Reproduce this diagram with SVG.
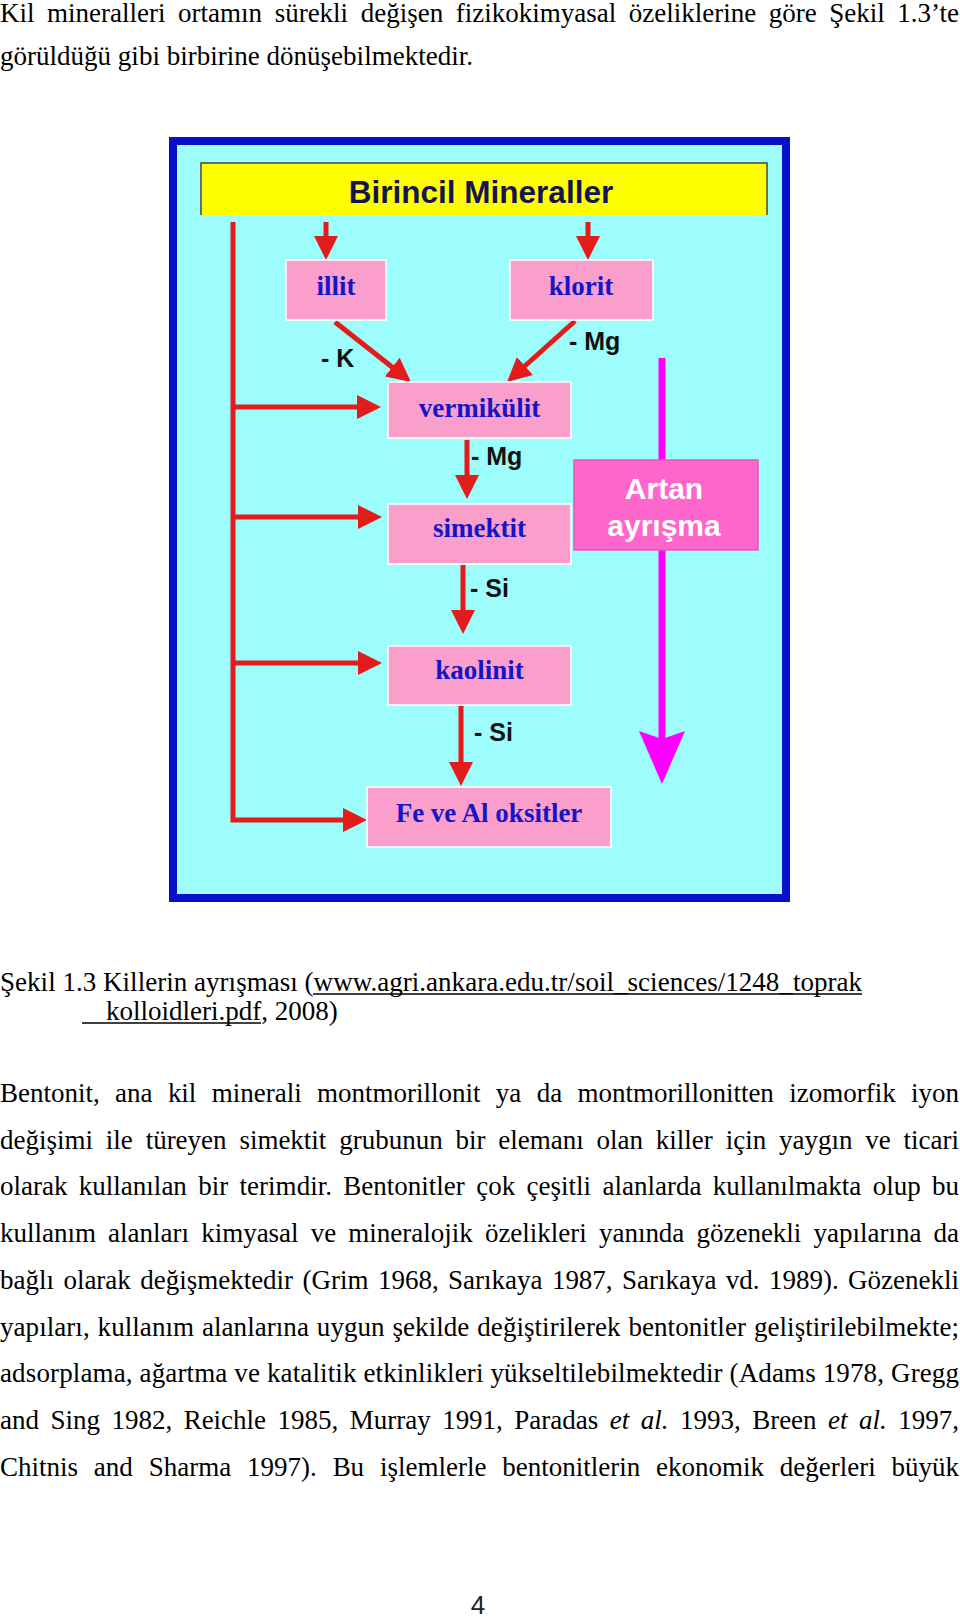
<svg xmlns="http://www.w3.org/2000/svg" width="960" height="1617" viewBox="0 0 960 1617">
<style>
.body{font-family:"Liberation Serif","Times New Roman",serif;font-size:27px;fill:#000}
.box{fill:#fa9fcb;stroke:#ffffff;stroke-width:1.5}
.boxt{font-family:"Liberation Serif","Times New Roman",serif;font-weight:bold;font-size:27px;fill:#1414c8;text-anchor:middle}
.lbl{font-family:"Liberation Sans",Arial,sans-serif;font-weight:bold;font-size:25px;fill:#111}
.red{stroke:#e31b1b;stroke-width:5;fill:none;marker-end:url(#ah)}
.ul{stroke:#000;stroke-width:1.3}
.art{font-family:"Liberation Sans",Arial,sans-serif;font-weight:bold;font-size:30px;fill:#ffffff;text-anchor:middle}
</style>
<defs>
<marker id="ah" viewBox="0 0 24 24" markerWidth="24" markerHeight="24" refX="18" refY="12" orient="auto" markerUnits="userSpaceOnUse">
<path d="M0,0 L24,12 L0,24 z" fill="#e31b1b"/>
</marker>
</defs>
<rect width="960" height="1617" fill="#ffffff"/>

<g id="intro">
<text class="body" x="0" y="22" textLength="959" lengthAdjust="spacing" word-spacing="5.8">Kil mineralleri ortamın sürekli değişen fizikokimyasal özeliklerine göre Şekil 1.3’te</text>
<text class="body" x="0" y="65" textLength="473" lengthAdjust="spacing">görüldüğü gibi birbirine dönüşebilmektedir.</text>
</g>

<g id="frame">
<rect x="173" y="141" width="613" height="757" fill="#9dfcfc" stroke="#0a10c8" stroke-width="8"/>
</g>

<g id="connectors">
<path class="red" d="M326,222 V254"/>
<path class="red" d="M588,222 V254"/>
<path class="red" d="M335,322 L406.3,378.3"/>
<path class="red" d="M575,321 L511.5,378"/>
<path class="red" d="M467,440 V493"/>
<path class="red" d="M463,565 V628"/>
<path class="red" d="M461,706 V780"/>
<path class="red" d="M233,222 V820 H361"/>
<path class="red" d="M231,407 H375"/>
<path class="red" d="M231,517 H376"/>
<path class="red" d="M231,663 H376"/>
<line x1="662" y1="358" x2="662" y2="742" stroke="#ff00ff" stroke-width="7"/>
<path d="M639,731 L662,739 L685,731 L662,784 Z" fill="#ff00ff"/>
</g>

<g id="labels">
<text class="lbl" x="321" y="367">- K</text>
<text class="lbl" x="569" y="350">- Mg</text>
<text class="lbl" x="471" y="465">- Mg</text>
<text class="lbl" x="470" y="597">- Si</text>
<text class="lbl" x="474" y="741">- Si</text>
</g>

<g id="birincil">
<rect x="201" y="163" width="566" height="52" fill="#ffff00"/>
<path d="M201,215 V163 H767 V215" fill="none" stroke="#444" stroke-width="1.5"/>
<text x="481" y="203" text-anchor="middle" font-family="Liberation Sans, Arial, sans-serif" font-weight="bold" font-size="31.5" fill="#141450">Birincil Mineraller</text>
</g>

<g id="illit">
<rect class="box" x="286" y="260" width="100" height="60"/>
<text class="boxt" x="336" y="295">illit</text>
</g>
<g id="klorit">
<rect class="box" x="510" y="260" width="143" height="60"/>
<text class="boxt" x="581" y="295">klorit</text>
</g>
<g id="vermikulit">
<rect class="box" x="388" y="382" width="183" height="56"/>
<text class="boxt" x="479.5" y="417">vermikülit</text>
</g>
<g id="simektit">
<rect class="box" x="388" y="504" width="183" height="60"/>
<text class="boxt" x="479.5" y="537">simektit</text>
</g>
<g id="kaolinit">
<rect class="box" x="388" y="646" width="183" height="59"/>
<text class="boxt" x="479.5" y="679">kaolinit</text>
</g>
<g id="oksitler">
<rect class="box" x="367" y="787" width="244" height="60"/>
<text class="boxt" x="489" y="822">Fe ve Al oksitler</text>
</g>

<g id="artan">
<rect x="574" y="460" width="184" height="90" fill="#ff66cc" stroke="#e65ab5" stroke-width="1.5"/>
<text class="art" x="664" y="499">Artan</text>
<text class="art" x="664" y="536">ayrışma</text>
</g>

<g id="caption">
<text class="body" x="0" y="991" textLength="862" lengthAdjust="spacing">Şekil 1.3 Killerin ayrışması (www.agri.ankara.edu.tr/soil_sciences/1248_toprak</text>
<line class="ul" x1="313" y1="994" x2="862" y2="994"/>
<text class="body" x="106" y="1020">kolloidleri.pdf, 2008)</text>
<line class="ul" x1="82" y1="1023" x2="261" y2="1023"/>
</g>

<g id="paragraph">
<text class="body" x="0" y="1102" textLength="959" lengthAdjust="spacing" word-spacing="8.7">Bentonit, ana kil minerali montmorillonit ya da montmorillonitten izomorfik iyon</text>
<text class="body" x="0" y="1148.7" textLength="959" lengthAdjust="spacing" word-spacing="6.1">değişimi ile türeyen simektit grubunun bir elemanı olan killer için yaygın ve ticari</text>
<text class="body" x="0" y="1195.4" textLength="959" lengthAdjust="spacing" word-spacing="4.6">olarak kullanılan bir terimdir. Bentonitler çok çeşitli alanlarda kullanılmakta olup bu</text>
<text class="body" x="0" y="1242.1" textLength="959" lengthAdjust="spacing" word-spacing="5.4">kullanım alanları kimyasal ve mineralojik özelikleri yanında gözenekli yapılarına da</text>
<text class="body" x="0" y="1288.8" textLength="959" lengthAdjust="spacing" word-spacing="2.7">bağlı olarak değişmektedir (Grim 1968, Sarıkaya 1987, Sarıkaya vd. 1989). Gözenekli</text>
<text class="body" x="0" y="1335.5" textLength="959" lengthAdjust="spacing" word-spacing="1.1">yapıları, kullanım alanlarına uygun şekilde değiştirilerek bentonitler geliştirilebilmekte;</text>
<text class="body" x="0" y="1382.2" textLength="959" lengthAdjust="spacing">adsorplama, ağartma ve katalitik etkinlikleri yükseltilebilmektedir (Adams 1978, Gregg</text>
<text class="body" x="0" y="1428.9" textLength="959" lengthAdjust="spacing" word-spacing="4.8">and Sing 1982, Reichle 1985, Murray 1991, Paradas <tspan font-style="italic">et al.</tspan> 1993, Breen <tspan font-style="italic">et al.</tspan> 1997,</text>
<text class="body" x="0" y="1475.6" textLength="959" lengthAdjust="spacing" word-spacing="9.2">Chitnis and Sharma 1997). Bu işlemlerle bentonitlerin ekonomik değerleri büyük</text>
</g>

<g id="pagenum">
<text x="478" y="1614" text-anchor="middle" font-family="Liberation Sans, Arial, sans-serif" font-size="26" fill="#222">4</text>
</g>
</svg>
